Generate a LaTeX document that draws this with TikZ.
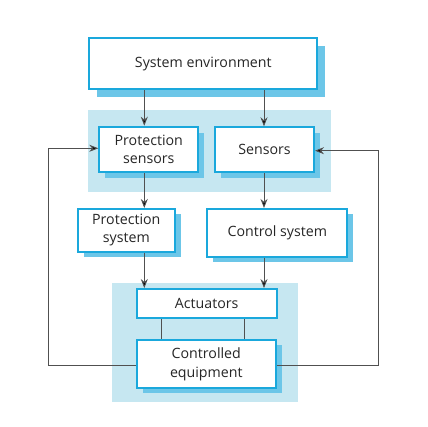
\documentclass[tikz,border=0pt]{standalone}
\usepackage{fontspec}
\setmainfont{Open Sans}
\usetikzlibrary{arrows.meta}
\definecolor{bord}{HTML}{1AA8DC}
\definecolor{shad}{HTML}{6CC6E8}
\definecolor{regn}{HTML}{C6E7F1}
\definecolor{txt}{HTML}{262626}
\definecolor{wire}{HTML}{505050}
\begin{document}
\begin{tikzpicture}[x=1pt,y=-1pt,
  box/.style={draw=bord,line width=2pt,fill=white,rectangle,inner sep=0pt,align=center,text=txt,font=\fontsize{14.2}{18.3}\selectfont},
  shadowbox/.style={fill=shad},
  region/.style={fill=regn},
  conn/.style={draw=wire,line width=0.9pt},
  arr/.style={conn,-{Stealth[length=9pt,width=7pt,fill=black]}}]
\useasboundingbox (0,0) rectangle (428,427);
% regions
\fill[region] (87.7,110) rectangle (331,191.7);
\fill[region] (111.7,283.3) rectangle (298.3,402.3);
% shadows
\fill[shadowbox] (97.3,46.3) rectangle (325.3,97.3);
\fill[shadowbox] (105.3,132.7) rectangle (204.3,178.3);
\fill[shadowbox] (221,133.3) rectangle (320,178.3);
\fill[shadowbox] (83.7,214) rectangle (181,256.7);
\fill[shadowbox] (213.3,214) rectangle (353.3,261.7);
\fill[shadowbox] (142.7,345) rectangle (282,393.3);
% boxes
\node[box,minimum width=228pt,minimum height=51pt] (se) at (203.3,63.8) {System environment};
\node[box,minimum width=99pt,minimum height=45.6pt] (ps) at (148.8,149.5) {Protection\\sensors};
\node[box,minimum width=99pt,minimum height=45pt] (sn) at (264.5,149.8) {Sensors};
\node[box,minimum width=97.3pt,minimum height=42.7pt] (pt) at (126.3,230.3) {Protection\\system};
\node[box,minimum width=140pt,minimum height=47.7pt] (cs) at (277.3,232.8) {Control system};
\node[box,minimum width=140pt,minimum height=29.3pt] (ac) at (206.7,303.7) {Actuators};
\node[box,minimum width=139.3pt,minimum height=48.3pt] (ce) at (206.3,364.2) {Controlled\\equipment};
% coordinates
\coordinate (lx) at (144.3,0);
\coordinate (rx) at (264,0);
\coordinate (l1) at (161,0);
\coordinate (l2) at (244.3,0);
\coordinate (fbL) at (48.3,365);
\coordinate (fbR) at (378.3,365);
% arrows
\draw[arr] (lx |- se.south) -- (lx |- ps.north);
\draw[arr] (rx |- se.south) -- (rx |- sn.north);
\draw[arr] (lx |- ps.south) -- (lx |- pt.north);
\draw[arr] (rx |- sn.south) -- (rx |- cs.north);
\draw[arr] (lx |- pt.south) -- (lx |- ac.north);
\draw[arr] (rx |- cs.south) -- (rx |- ac.north);
\draw[conn] (l1 |- ac.south) -- (l1 |- ce.north);
\draw[conn] (l2 |- ac.south) -- (l2 |- ce.north);
\draw[arr] (ce.west |- fbL) -- (fbL) -- (fbL |- 0,148.3) -- (ps.west |- 0,148.3);
\draw[arr] (ce.east |- fbR) -- (fbR) -- (fbR |- 0,150.7) -- (sn.east |- 0,150.7);
\end{tikzpicture}
\end{document}
